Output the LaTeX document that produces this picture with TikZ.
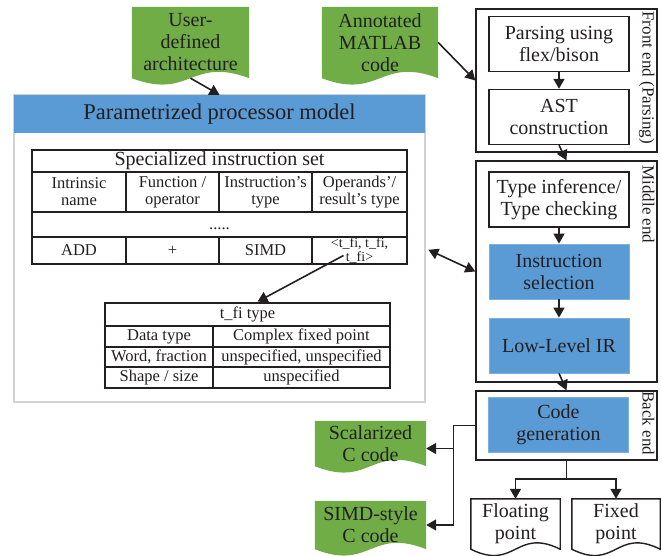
\documentclass[tikz,border=0pt]{standalone}
\usepackage{fontspec}
\setmainfont{Liberation Serif}
\usetikzlibrary{arrows.meta,calc,backgrounds}
\definecolor{docgreen}{HTML}{70AD47}
\definecolor{boxblue}{HTML}{5B9BD5}
\definecolor{ink}{HTML}{231F20}
\newcommand{\docshape}[2]{%
  \path[#2] (#1.north west) -- (#1.north east) -- (#1.south east)
    .. controls ($(#1.south)+(0,-22)$) and ($(#1.south)+(0,22)$) .. (#1.south west) -- cycle;}
\begin{document}
\begin{tikzpicture}[x=1pt,y=-1pt,
    every node/.style={text=ink,inner sep=0pt,align=center},
    big/.style={font=\fontsize{20}{22}\selectfont},
    stage/.style={big,draw=ink,line width=1.4pt,minimum width=140,minimum height=55},
    bluestage/.style={big,fill=boxblue,draw=boxblue!80!white,line width=0.8pt,minimum width=140,minimum height=55},
    part/.style={draw=ink,line width=1.4pt,minimum width=181},
    sidelab/.style={font=\fontsize{17}{19}\selectfont,rotate=-90,anchor=north west},
    gdoc/.style={big},
    wdoc/.style={big},
    tab/.style={draw=ink,line width=1.2pt},
    cell/.style={font=\fontsize{16.5}{17}\selectfont},
    arr/.style={draw=ink,line width=1.6pt,-{Triangle[length=10pt,width=11pt]}},
    arrs/.style={draw=ink,line width=1.6pt,{Triangle[length=10pt,width=11pt]}-{Triangle[length=10pt,width=11pt]}},
    conn/.style={draw=ink,line width=1.6pt}]
\useasboundingbox (0,0) rectangle (662,556);

% processor model
\node[draw=gray!35,line width=1.2pt,minimum width=411,minimum height=307] (ppm) at (219.5,248.5) {};
\node[fill=boxblue,minimum width=411,minimum height=38,font=\fontsize{22.5}{24}\selectfont] (ppmhead) at (219.5,114) {Parametrized processor model};

% instruction set table
\draw[tab] (32,150) rectangle (407,264);
\foreach \yy in {172,212,237}
  \draw[tab] (32,\yy) -- (407,\yy);
\foreach \xx in {126,219,312} {
  \draw[tab] (\xx,172) -- (\xx,212);
  \draw[tab] (\xx,237) -- (\xx,264);
}
\node[font=\fontsize{20}{22}\selectfont] (ist) at (219.5,161) {Specialized instruction set};
\foreach \cx/\txt [count=\k] in {79/{Intrinsic\\name},172.5/{Function /\\operator},265.5/{Instruction's\\type},359.5/{Operands'/\\result's type}}
  \node[cell] (h\k) at (\cx,192) {\txt};
\node[cell] (dots) at (219.5,229) {.....};
\node[cell] (c1) at (79,250.5) {ADD};
\node[cell] (c2) at (172.5,250.5) {+};
\node[cell] (c3) at (265.5,250.5) {SIMD};
\node[font=\fontsize{14}{13.5}\selectfont] (c4) at (359.5,250.5) {<t\_fi, t\_fi,\\t\_fi>};

% t_fi type table
\draw[tab] (105,303) rectangle (390,388);
\foreach \yy in {326,347,367}
  \draw[tab] (105,\yy) -- (390,\yy);
\draw[tab] (213,326) -- (213,388);
\node[cell] (tfi) at (247.5,314.5) {t\_fi type};
\foreach \ry/\ka/\kb [count=\k] in {336.5/{Data type}/{Complex fixed point},357/{Word, fraction}/{unspecified, unspecified},377.5/{Shape / size}/{unspecified}} {
  \node[cell] (ta\k) at (159,\ry) {\ka};
  \node[cell] (tb\k) at (301.5,\ry) {\kb};
}

% compiler stages
\node[part,minimum height=143] (fe) at (566.5,80.5) {};
\node[stage] (parse) at (559,44) {Parsing using\\flex/bison};
\node[stage] (ast) at (559,117) {AST\\construction};
\node[sidelab] at ($(fe.north east)+(-3,3)$) {Front end (Parsing)};

\node[part,minimum height=221] (me) at (566.5,271.5) {};
\node[stage] (tinf) at (559,199.5) {Type inference/\\Type checking};
\node[bluestage] (isel) at (559,271.5) {Instruction\\selection};
\node[bluestage] (llir) at (559,345.5) {Low-Level IR};
\node[sidelab] at ($(me.north east)+(-3,5)$) {Middle end};

\node[part,minimum height=69] (be) at (566.5,425.5) {};
\node[bluestage] (cgen) at (558.5,424.5) {Code\\generation};
\node[sidelab] at ($(be.north east)+(-3,1)$) {Back end};

% documents
\node[gdoc,minimum width=117,minimum height=71] (uda) at (190.5,42.5) {User-\\defined\\architecture};
\node[gdoc,minimum width=116,minimum height=71] (mat) at (380,42.5) {Annotated\\MATLAB\\code};
\node[gdoc,minimum width=111,minimum height=45] (scal) at (370.5,443.5) {Scalarized\\C code};
\node[gdoc,minimum width=111,minimum height=48] (simd) at (370.5,525) {SIMD-style\\C code};
\node[wdoc,minimum width=89,minimum height=50] (flt) at (515.5,524) {Floating\\point};
\node[wdoc,minimum width=88,minimum height=50] (fix) at (616,524) {Fixed\\point};
\begin{scope}[on background layer]
  \docshape{uda}{fill=docgreen}
  \docshape{mat}{fill=docgreen}
  \docshape{scal}{fill=docgreen}
  \docshape{simd}{fill=docgreen}
  \docshape{flt}{draw=ink,line width=1.4pt,fill=white}
  \docshape{fix}{draw=ink,line width=1.4pt,fill=white}
\end{scope}

% connectors
\draw[arr] (uda.south) -- (ppmhead.north);
\draw[arr] (mat.east) -- (fe.west);
\draw[arr] (parse) -- (ast);
\draw[arr] (ast.south) -- (me.north);
\draw[arr] (tinf) -- (isel);
\draw[arr] (isel) -- (llir);
\draw[arr] (llir.south) -- (be.north);
\draw[arrs,shorten <=3pt] (ppm.east) -- (me.west);
\draw[arr] ($(c4.center)+(-16,5)$) -- ($(tfi.north)+(10,-5)$);
\coordinate (bj) at ($(be.west)+(-22,0)$);
\draw[conn] (be.west) -- (bj);
\draw[arr] (bj) |- ($(scal.east)+(0,5)$);
\draw[arr] (bj) |- (simd.east);
\draw[arr] (be.south) -- ++(0,18) -| (flt.north);
\draw[arr] (be.south) -- ++(0,18) -| (fix.north);
\end{tikzpicture}
\end{document}
